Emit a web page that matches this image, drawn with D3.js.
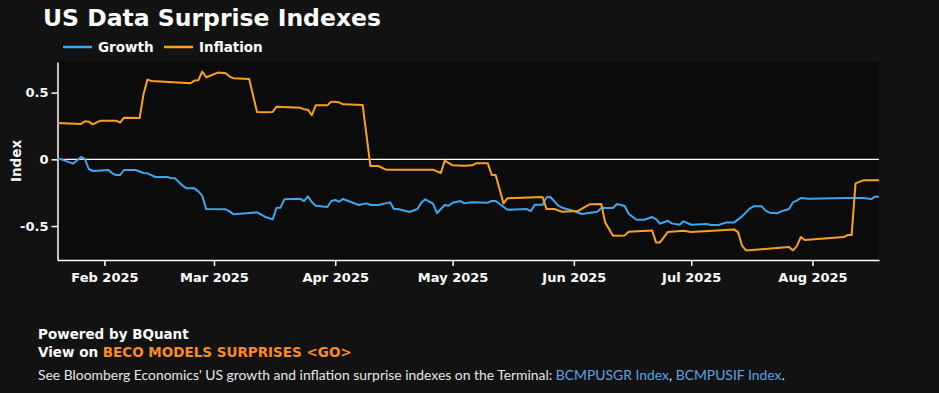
<!DOCTYPE html>
<html>
<head>
<meta charset="utf-8">
<script src="https://cdn.jsdelivr.net/npm/d3@7"></script>
<style>
  body { margin: 0; background: #121212; }
  svg { display: block; }
</style>
</head>
<body>
<div id="chart"></div>
<script>
// values (dates are daily, UTC)
const growthDates = [
  '2025-01-20','2025-01-21','2025-01-24','2025-01-26','2025-01-27','2025-01-28','2025-01-29',
  '2025-02-02','2025-02-03','2025-02-04','2025-02-05','2025-02-06','2025-02-09','2025-02-11',
  '2025-02-12','2025-02-14','2025-02-17','2025-02-18','2025-02-19','2025-02-21','2025-02-22',
  '2025-02-24','2025-02-25','2025-02-26','2025-02-27','2025-03-04','2025-03-05','2025-03-06',
  '2025-03-12','2025-03-14','2025-03-16','2025-03-17','2025-03-18','2025-03-19','2025-03-23',
  '2025-03-24','2025-03-25','2025-03-26','2025-03-27','2025-03-30','2025-03-31','2025-04-01',
  '2025-04-02','2025-04-03','2025-04-07','2025-04-09','2025-04-10','2025-04-12','2025-04-15',
  '2025-04-16','2025-04-17','2025-04-20','2025-04-22','2025-04-23','2025-04-24','2025-04-26',
  '2025-04-27','2025-04-29','2025-04-30','2025-05-01','2025-05-03','2025-05-04','2025-05-05',
  '2025-05-06','2025-05-10','2025-05-11','2025-05-12','2025-05-14','2025-05-15','2025-05-20',
  '2025-05-21','2025-05-22','2025-05-24','2025-05-25','2025-05-26','2025-05-28','2025-05-29',
  '2025-06-01','2025-06-03','2025-06-07','2025-06-08','2025-06-11','2025-06-12','2025-06-14',
  '2025-06-15','2025-06-17','2025-06-19','2025-06-21','2025-06-22','2025-06-23','2025-06-25',
  '2025-06-26','2025-06-28','2025-06-29','2025-07-01','2025-07-05','2025-07-06','2025-07-08',
  '2025-07-10','2025-07-12','2025-07-14','2025-07-16','2025-07-17','2025-07-19','2025-07-20',
  '2025-07-21','2025-07-23','2025-07-24','2025-07-26','2025-07-27','2025-07-28','2025-07-29',
  '2025-07-31','2025-08-10','2025-08-14','2025-08-16','2025-08-17','2025-08-18'
];
const growthValues = [
  0.0025, 0, -0.0325, 0.0175, 0.0025, -0.0725, -0.0875,
  -0.08, -0.105, -0.1175, -0.1175, -0.08, -0.08, -0.1025,
  -0.105, -0.1325, -0.1325, -0.14, -0.1425, -0.1975, -0.2175,
  -0.2175, -0.24, -0.2725, -0.3725, -0.375, -0.39, -0.4125,
  -0.3975, -0.43, -0.45, -0.3625, -0.3625, -0.3, -0.295,
  -0.3125, -0.2775, -0.32, -0.3475, -0.3575, -0.3125, -0.305,
  -0.3175, -0.2975, -0.3425, -0.33, -0.3425, -0.3425, -0.3225,
  -0.3725, -0.3725, -0.395, -0.3725, -0.325, -0.3, -0.3325,
  -0.4025, -0.3425, -0.3475, -0.325, -0.3125, -0.33, -0.325,
  -0.3225, -0.325, -0.3125, -0.3125, -0.355, -0.3775, -0.3725,
  -0.3875, -0.34, -0.34, -0.285, -0.2825, -0.3475, -0.3625,
  -0.3875, -0.41, -0.3925, -0.365, -0.365, -0.335, -0.35,
  -0.4075, -0.4525, -0.4525, -0.4325, -0.4475, -0.4825, -0.46,
  -0.48, -0.49, -0.465, -0.49, -0.485, -0.4925, -0.4925,
  -0.4725, -0.4725, -0.4275, -0.3675, -0.3525, -0.3525, -0.385,
  -0.4, -0.405, -0.39, -0.3725, -0.3225, -0.31, -0.29,
  -0.295, -0.29, -0.29, -0.2975, -0.28, -0.28
];

const inflationDates = [
  '2025-01-20','2025-01-26','2025-01-27','2025-01-28','2025-01-29','2025-01-31',
  '2025-02-04','2025-02-05','2025-02-06','2025-02-10','2025-02-11','2025-02-12','2025-02-13',
  '2025-02-23','2025-02-24','2025-02-25','2025-02-26','2025-02-27',
  '2025-03-02','2025-03-04','2025-03-05','2025-03-06','2025-03-10','2025-03-12','2025-03-14',
  '2025-03-16','2025-03-17','2025-03-23','2025-03-24','2025-03-25','2025-03-26','2025-03-27',
  '2025-03-30','2025-03-31','2025-04-02','2025-04-03','2025-04-08','2025-04-10','2025-04-12',
  '2025-04-14','2025-04-26','2025-04-28','2025-04-29','2025-05-01','2025-05-04','2025-05-06',
  '2025-05-07','2025-05-10','2025-05-11','2025-05-12','2025-05-14','2025-05-15','2025-05-24',
  '2025-05-25','2025-05-27','2025-05-29','2025-06-02','2025-06-05','2025-06-08','2025-06-09',
  '2025-06-11','2025-06-14','2025-06-15','2025-06-21','2025-06-22','2025-06-23','2025-06-25',
  '2025-06-29','2025-07-01','2025-07-12','2025-07-13','2025-07-14','2025-07-15','2025-07-26',
  '2025-07-27','2025-07-28','2025-07-29','2025-07-30','2025-08-09','2025-08-10','2025-08-11',
  '2025-08-12','2025-08-14','2025-08-18'
];
const inflationValues = [
  0.2725, 0.265, 0.285, 0.2825, 0.2625, 0.29,
  0.29, 0.275, 0.3125, 0.31, 0.49, 0.5975, 0.5875,
  0.57, 0.59, 0.5925, 0.6575, 0.615,
  0.65, 0.645, 0.62, 0.6075, 0.6025, 0.355, 0.3525,
  0.355, 0.395, 0.3875, 0.375, 0.3725, 0.33, 0.405,
  0.405, 0.4325, 0.4275, 0.4125, 0.4075, -0.05, -0.05,
  -0.0775, -0.0775, -0.1025, -0.01, -0.045, -0.0475, -0.045,
  -0.03, -0.03, -0.1175, -0.1175, -0.33, -0.2925, -0.2825,
  -0.3725, -0.3725, -0.3925, -0.3875, -0.3375, -0.335, -0.4725,
  -0.5725, -0.57, -0.5425, -0.5325, -0.6225, -0.6225, -0.545,
  -0.535, -0.545, -0.525, -0.5475, -0.6475, -0.6825, -0.6575,
  -0.6825, -0.65, -0.5825, -0.605, -0.5825, -0.5675, -0.5675,
  -0.18, -0.1575, -0.1575
];

const seriesNames = ['Growth', 'Inflation'];
const seriesColors = ['#3ea6ee', '#f9a11b'];
const yTickValues = [-0.5, 0, 0.5];

const W = 939, H = 393;
const margin = { top: 62, right: 60, bottom: 133, left: 57.5 };
const boldFont = '"DejaVu Sans", Verdana, sans-serif';

const parse = d3.utcParse('%Y-%m-%d');
const growth = growthDates.map((d, i) => ({ date: parse(d), value: growthValues[i] }));
const inflation = inflationDates.map((d, i) => ({ date: parse(d), value: inflationValues[i] }));

const svg = d3.select('#chart').append('svg')
    .attr('width', W)
    .attr('height', H);

// dark plot band
svg.append('rect')
    .attr('x', margin.left).attr('y', margin.top)
    .attr('width', W - margin.right - margin.left).attr('height', H - margin.top - margin.bottom)
    .attr('fill', '#0b0b0b');

const x = d3.scaleUtc()
    .domain(d3.extent(growth.concat(inflation), d => d.date))
    .range([margin.left, W - margin.right]);

const all = growthValues.concat(inflationValues);
const pad = 0.072;
const y = d3.scaleLinear()
    .domain([d3.min(all) - pad, d3.max(all) + pad])
    .range([H - margin.bottom, margin.top]);

// title
svg.append('text')
    .attr('x', 43).attr('y', 26)
    .attr('fill', '#fff')
    .style('font', `bold 23.5px ${boldFont}`)
    .text('US Data Surprise Indexes');

// legend
const legendX = [63, 164];
seriesNames.forEach((name, i) => {
    const g = svg.append('g').attr('transform', `translate(${legendX[i]},47)`);
    g.append('line')
        .attr('x1', 0).attr('x2', 29)
        .attr('stroke', seriesColors[i]).attr('stroke-width', 2.5);
    g.append('text')
        .attr('x', 35).attr('y', 5)
        .attr('fill', '#fff')
        .style('font', `bold 13.5px ${boldFont}`)
        .text(name);
});

// axes
const xAxis = d3.axisBottom(x)
    .ticks(d3.utcMonth.every(1))
    .tickFormat(d3.utcFormat('%b %Y'))
    .tickSize(6)
    .tickSizeOuter(0)
    .tickPadding(7);

const yAxis = d3.axisLeft(y)
    .tickValues(yTickValues)
    .tickFormat(d => d === 0 ? '0' : d3.format('.1f')(d).replace('−', '-'))
    .tickSize(6)
    .tickSizeOuter(0);

const gx = svg.append('g')
    .attr('transform', `translate(0,${H - margin.bottom})`)
    .call(xAxis);

const gy = svg.append('g')
    .attr('transform', `translate(${margin.left},0)`)
    .call(yAxis);

[gx, gy].forEach(g => {
    g.selectAll('.domain').attr('stroke', '#fff').attr('stroke-width', 1.5);
    g.selectAll('.tick line').attr('stroke', '#fff').attr('stroke-width', 1.5);
    g.selectAll('.tick text')
        .attr('fill', '#fff')
        .style('font', `bold 13px ${boldFont}`);
});

// y label
svg.append('text')
    .attr('transform', `translate(20.5,${(margin.top + H - margin.bottom) / 2}) rotate(-90)`)
    .attr('text-anchor', 'middle')
    .attr('fill', '#fff')
    .style('font', `bold 13.5px ${boldFont}`)
    .text('Index');

// zero line
svg.append('line')
    .attr('x1', margin.left).attr('x2', W - margin.right)
    .attr('y1', y(0)).attr('y2', y(0))
    .attr('stroke', '#fff').attr('stroke-width', 1.2);

const line = d3.line()
    .x(d => x(d.date))
    .y(d => y(d.value));

[growth, inflation].forEach((data, i) => {
    svg.append('path')
        .datum(data)
        .attr('fill', 'none')
        .attr('stroke', seriesColors[i])
        .attr('stroke-width', 2)
        .attr('stroke-linejoin', 'round')
        .attr('d', line);
});

// footer
svg.append('text')
    .attr('x', 38).attr('y', 339)
    .attr('fill', '#fff')
    .style('font', `bold 13.5px ${boldFont}`)
    .text('Powered by BQuant');

const view = svg.append('text')
    .attr('x', 38).attr('y', 357)
    .attr('fill', '#fff')
    .style('font', `bold 13.5px ${boldFont}`);
view.append('tspan').text('View on ');
view.append('tspan').attr('fill', '#fb8c1d').text('BECO MODELS SURPRISES <GO>');

const note = svg.append('text')
    .attr('x', 38).attr('y', 380)
    .attr('fill', '#e6e6e6')
    .style('font', '13.9px Lato, "Noto Sans", sans-serif');
note.append('tspan').text("See Bloomberg Economics' US growth and inflation surprise indexes on the Terminal: ");
note.append('tspan').attr('fill', '#5aa4e2').text('BCMPUSGR Index');
note.append('tspan').text(', ');
note.append('tspan').attr('fill', '#5aa4e2').text('BCMPUSIF Index');
note.append('tspan').text('.');
</script>
</body>
</html>
